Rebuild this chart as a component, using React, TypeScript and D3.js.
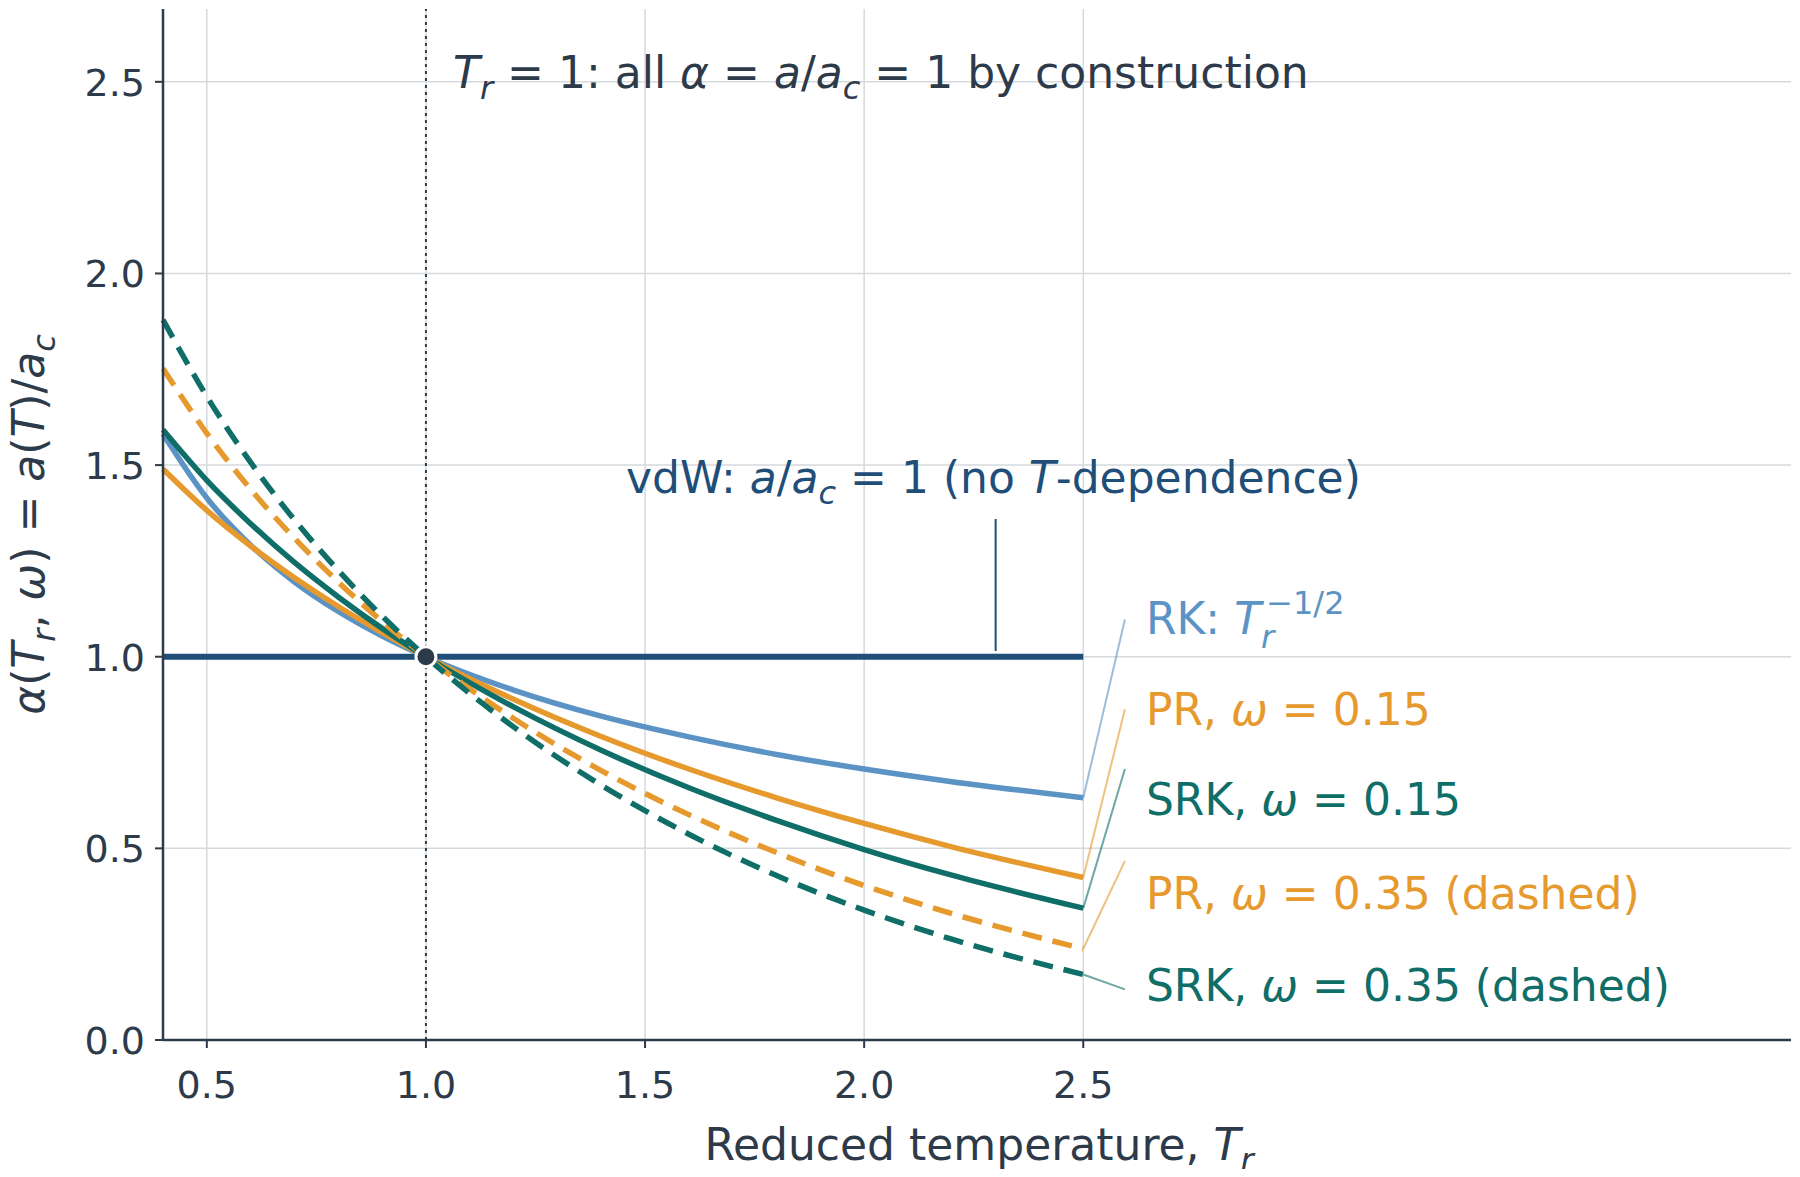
import * as d3 from 'd3';

const TR = [0.4, 0.5, 0.6, 0.7, 0.8, 0.9, 1.0, 1.2, 1.4, 1.6, 1.8, 2.0, 2.2, 2.5];
const RK = [1.581, 1.414, 1.291, 1.195, 1.118, 1.054, 1, 0.913, 0.845, 0.791, 0.745, 0.707, 0.674, 0.632];
const PR15 = [1.49, 1.382, 1.289, 1.206, 1.131, 1.063, 1, 0.889, 0.792, 0.707, 0.632, 0.565, 0.504, 0.424];
const SRK15 = [1.592, 1.46, 1.347, 1.246, 1.156, 1.074, 1, 0.869, 0.756, 0.658, 0.573, 0.497, 0.43, 0.344];
const PR35 = [1.752, 1.583, 1.437, 1.309, 1.195, 1.092, 1, 0.839, 0.703, 0.588, 0.489, 0.403, 0.33, 0.238];
const SRK35 = [1.879, 1.679, 1.507, 1.357, 1.225, 1.106, 1, 0.817, 0.665, 0.537, 0.429, 0.339, 0.263, 0.171];
const X_TICKS = [0.5, 1.0, 1.5, 2.0, 2.5];
const Y_TICKS = [0.0, 0.5, 1.0, 1.5, 2.0, 2.5];
// connector targets and label baselines (y in data units)
const CONNECT_Y = [1.097, 0.863, 0.707, 0.467, 0.132];
const LABEL_BASE_Y = [1.058, 0.821, 0.587, 0.342, 0.102];

const INK = '#2d3a4a';
const VDW = '#1f4e79';
const C_RK = '#5b93c4';
const C_PR = '#e69a2e';
const C_SRK = '#0f6e68';

const series = [
  { name: 'RK', values: RK, color: C_RK, dash: null },
  { name: 'PR15', values: PR15, color: C_PR, dash: null },
  { name: 'SRK15', values: SRK15, color: C_SRK, dash: null },
  { name: 'PR35', values: PR35, color: C_PR, dash: '20 11' },
  { name: 'SRK35', values: SRK35, color: C_SRK, dash: '20 11' },
];

export default function App() {
  const W = 1800;
  const H = 1177;
  const m = { left: 163, top: 9, right: 9, bottom: 137 };
  const x = d3.scaleLinear().domain([0.4, 4.115]).range([m.left, W - m.right]);
  const y = d3.scaleLinear().domain([0, 2.69]).range([H - m.bottom, m.top]);
  const line = d3
    .line<number>()
    .x((_, i) => x(TR[i]))
    .y((d) => y(d))
    .curve(d3.curveMonotoneX);
  const font = 'DejaVu Sans, sans-serif';
  const labelX = x(2.595) + 21;
  const FS = 44;
  const SUB = 32;

  const labels = [
    { color: C_RK, content: (
      <>RK: <tspan fontStyle="italic">T</tspan><tspan fontStyle="italic" fontSize={SUB} dy="14">r</tspan><tspan fontSize={SUB} dx="-8" dy="-34">−1/2</tspan></>
    ) },
    { color: C_PR, content: <>PR, <tspan fontStyle="italic">ω</tspan> = 0.15</> },
    { color: C_SRK, content: <>SRK, <tspan fontStyle="italic">ω</tspan> = 0.15</> },
    { color: C_PR, content: <>PR, <tspan fontStyle="italic">ω</tspan> = 0.35 (dashed)</> },
    { color: C_SRK, content: <>SRK, <tspan fontStyle="italic">ω</tspan> = 0.35 (dashed)</> },
  ];

  return (
    <svg width={W} height={H} style={{ display: 'block', margin: -8, background: '#fff' }} fontFamily={font}>
      {/* grid */}
      {X_TICKS.map((t) => (
        <line key={'gx' + t} x1={x(t)} x2={x(t)} y1={y(0)} y2={m.top} stroke="#d5dadd" strokeWidth={1.5} />
      ))}
      {Y_TICKS.map((t) => (
        <line key={'gy' + t} x1={m.left} x2={W - m.right} y1={y(t)} y2={y(t)} stroke="#d5dadd" strokeWidth={1.5} />
      ))}

      {/* Tr = 1 marker */}
      <line x1={x(1)} x2={x(1)} y1={y(0)} y2={m.top} stroke={INK} strokeWidth={2} strokeDasharray="3 4" />

      {/* vdW */}
      <line x1={x(0.4)} x2={x(2.5)} y1={y(1)} y2={y(1)} stroke={VDW} strokeWidth={6} />

      {series.map((s) => (
        <path key={s.name} d={line(s.values) || ''} fill="none" stroke={s.color} strokeWidth={5.5}
          strokeDasharray={s.dash || undefined} />
      ))}

      <circle cx={x(1)} cy={y(1)} r={10} fill={INK} stroke="#fff" strokeWidth={3} />

      {/* connectors + end labels */}
      {series.map((s, i) => (
        <line key={'c' + i} x1={x(2.5)} y1={y(s.values[s.values.length - 1])} x2={x(2.595)} y2={y(CONNECT_Y[i])}
          stroke={s.color} strokeWidth={2} opacity={0.6} />
      ))}
      {labels.map((l, i) => (
        <text key={'l' + i} x={labelX} y={y(LABEL_BASE_Y[i])} fill={l.color} fontSize={FS}>{l.content}</text>
      ))}

      {/* annotations */}
      <text x={453} y={88} fill={INK} fontSize={FS}>
        <tspan fontStyle="italic">T</tspan><tspan fontStyle="italic" fontSize={SUB} dy="11">r</tspan>
        <tspan dy="-11"> = 1: all </tspan><tspan fontStyle="italic">α</tspan> = <tspan fontStyle="italic">a</tspan>/<tspan fontStyle="italic">a</tspan><tspan fontStyle="italic" fontSize={SUB} dy="11">c</tspan><tspan dy="-11"> = 1 by construction</tspan>
      </text>
      <text x={626} y={493} fill={VDW} fontSize={FS}>
        vdW: <tspan fontStyle="italic">a</tspan>/<tspan fontStyle="italic">a</tspan><tspan fontStyle="italic" fontSize={SUB} dy="11">c</tspan><tspan dy="-11"> = 1 (no </tspan><tspan fontStyle="italic">T</tspan>-dependence)
      </text>
      <line x1={x(2.3)} x2={x(2.3)} y1={519} y2={651} stroke={VDW} strokeWidth={2} />

      {/* axes */}
      <line x1={m.left} x2={m.left} y1={m.top} y2={y(0)} stroke={INK} strokeWidth={2.5} />
      <line x1={m.left} x2={W - m.right} y1={y(0)} y2={y(0)} stroke={INK} strokeWidth={2.5} />
      {X_TICKS.map((t) => (
        <g key={'xt' + t}>
          <line x1={x(t)} x2={x(t)} y1={y(0)} y2={y(0) + 8} stroke={INK} strokeWidth={2} />
          <text x={x(t)} y={y(0) + 58} textAnchor="middle" fill={INK} fontSize={38}>{t.toFixed(1)}</text>
        </g>
      ))}
      {Y_TICKS.map((t) => (
        <g key={'yt' + t}>
          <line x1={m.left - 8} x2={m.left} y1={y(t)} y2={y(t)} stroke={INK} strokeWidth={2} />
          <text x={m.left - 18} y={y(t) + 14} textAnchor="end" fill={INK} fontSize={38}>{t.toFixed(1)}</text>
        </g>
      ))}

      <text x={979} y={1160} textAnchor="middle" fill={INK} fontSize={FS}>
        Reduced temperature, <tspan fontStyle="italic">T</tspan><tspan fontStyle="italic" fontSize={SUB} dy="11">r</tspan>
      </text>
      <text transform={`translate(44,${(m.top + y(0)) / 2}) rotate(-90)`} textAnchor="middle" fill={INK} fontSize={FS}>
        <tspan fontStyle="italic">α</tspan>(<tspan fontStyle="italic">T</tspan><tspan fontStyle="italic" fontSize={SUB} dy="11">r</tspan><tspan dy="-11">, </tspan><tspan fontStyle="italic">ω</tspan>) = <tspan fontStyle="italic">a</tspan>(<tspan fontStyle="italic">T</tspan>)/<tspan fontStyle="italic">a</tspan><tspan fontStyle="italic" fontSize={SUB} dy="11">c</tspan>
      </text>
    </svg>
  );
}
